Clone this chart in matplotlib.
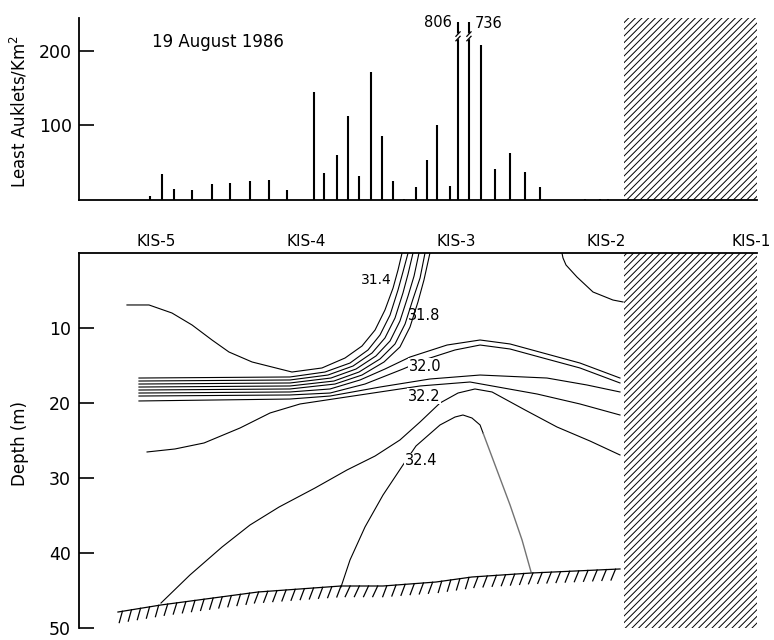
import numpy as np
import matplotlib.pyplot as plt
import matplotlib.patheffects as pe
from matplotlib.patches import Rectangle

plt.rcParams['font.family'] = ['DejaVu Sans']
plt.rcParams['hatch.linewidth'] = 0.7

# stations along the transect (x in station spacings)
stations = ['KIS-5', 'KIS-4', 'KIS-3', 'KIS-2', 'KIS-1']
station_x = [1, 2, 3, 4, 5]
land_start = 4.117

# least auklet densities along the transect
bird_x = [0.957, 1.037, 1.117, 1.237, 1.370, 1.490, 1.623, 1.750, 1.870,
          2.050, 2.117, 2.203, 2.277, 2.350, 2.430, 2.503, 2.577, 2.650,
          2.730, 2.803, 2.870, 2.957, 3.010, 3.083, 3.163, 3.257, 3.357,
          3.457, 3.557, 3.857, 3.957, 4.010]
bird_density = [5, 35, 15, 13, 22, 23, 25, 27, 13,
                144, 36, 60, 113, 32, 171, 86, 25, 2,
                18, 53, 101, 19, 806, 736, 208, 42, 63,
                37, 17, 1.5, 1.5, 1.5]

# salinity isolines: (distance, depth m)
s314_x = [0.803, 0.950, 1.103, 1.237, 1.370, 1.483, 1.637, 1.903, 2.103,
          2.257, 2.370, 2.457, 2.523, 2.577, 2.610, 2.637]
s314_z = [6.93, 6.93, 8.0, 9.6, 11.6, 13.2, 14.53, 15.87, 15.33,
          14.0, 12.4, 10.27, 7.6, 4.67, 2.27, 0]

b1_x = [0.883, 1.890, 2.123, 2.290, 2.410, 2.490, 2.557, 2.610, 2.643, 2.677]
b1_z = [16.67, 16.53, 15.87, 14.67, 12.93, 10.93, 8.27, 4.93, 2.53, 0]
b2_x = [0.883, 1.890, 2.143, 2.310, 2.437, 2.523, 2.590, 2.643, 2.677, 2.710]
b2_z = [17.07, 16.93, 16.27, 15.07, 13.33, 11.33, 8.67, 5.33, 2.8, 0]
b3_x = [0.883, 1.890, 2.163, 2.330, 2.463, 2.557, 2.623, 2.677, 2.717, 2.750]
b3_z = [17.47, 17.33, 16.67, 15.47, 13.73, 11.73, 9.07, 5.73, 3.07, 0]
b4_x = [0.883, 1.890, 2.183, 2.350, 2.490, 2.590, 2.657, 2.710, 2.757, 2.790]
b4_z = [17.87, 17.73, 17.07, 15.87, 14.13, 12.13, 9.47, 6.13, 3.33, 0]
b5_x = [0.883, 1.890, 2.190, 2.370, 2.517, 2.623, 2.690, 2.743, 2.783, 2.823]
b5_z = [18.27, 18.13, 17.47, 16.27, 14.53, 12.53, 9.87, 6.53, 3.6, 0]

s319_x = [0.883, 1.890, 2.157, 2.357, 2.523, 2.690, 2.937, 3.157, 3.357,
          3.577, 3.823, 4.090]
s319_z = [18.67, 18.53, 18.13, 16.93, 15.47, 13.87, 12.27, 11.6, 12.13,
          13.33, 14.67, 16.67]
s320_x = [0.883, 1.890, 2.157, 2.390, 2.643, 2.803, 2.990, 3.157, 3.357,
          3.577, 3.823, 4.090]
s320_z = [19.07, 18.93, 18.67, 17.47, 15.47, 14.13, 12.93, 12.27, 12.8,
          14.0, 15.33, 17.33]
s321_x = [0.883, 1.890, 2.157, 2.490, 2.823, 3.157, 3.603, 3.870, 4.090]
s321_z = [19.73, 19.47, 19.07, 17.87, 16.8, 16.27, 16.67, 17.6, 18.53]
s322_x = [0.937, 1.123, 1.317, 1.557, 1.757, 1.957, 2.223, 2.490, 2.757,
          3.090, 3.537, 3.823, 4.090]
s322_z = [26.53, 26.13, 25.33, 23.33, 21.33, 20.13, 19.33, 18.53, 17.73,
          17.2, 18.8, 20.13, 21.6]
s323_x = [1.030, 1.223, 1.437, 1.623, 1.817, 2.057, 2.270, 2.457, 2.623,
          2.757, 2.890, 3.010, 3.123, 3.237, 3.457, 3.670, 3.890, 4.090]
s323_z = [46.67, 42.93, 39.2, 36.27, 33.87, 31.33, 28.93, 27.07, 24.93,
          22.53, 20.0, 18.67, 18.13, 18.53, 20.93, 23.2, 25.07, 26.93]
s324_x = [2.230, 2.290, 2.390, 2.510, 2.643, 2.730, 2.890, 2.990, 3.043,
          3.103, 3.157, 3.177]
s324_z = [44.53, 40.93, 36.53, 32.27, 28.27, 25.73, 22.93, 21.87, 21.6,
          22.0, 22.93, 24.0]
s324b_x = [3.177, 3.257, 3.357, 3.437, 3.497]
s324b_z = [24.0, 28.27, 33.6, 38.27, 42.53]
arc_x = [3.703, 3.710, 3.730, 3.803, 3.910, 4.043, 4.110]
arc_z = [0, 0.67, 1.6, 3.2, 5.2, 6.27, 6.53]

# sea floor
floor_x = [0.743, 1.030, 1.677, 2.230, 2.510, 2.863, 3.103, 3.497, 4.090]
floor_z = [47.87, 46.93, 45.2, 44.4, 44.4, 43.87, 43.2, 42.67, 42.13]

W, H = 774, 640


def px_box(l, t, r, b):
    return [l / W, 1 - b / H, (r - l) / W, (b - t) / H]


fig = plt.figure(figsize=(W / 100, H / 100), dpi=100)
xlim = (0.4833, 5.0033)

# ---- top panel: bird densities
ax_top = fig.add_axes(px_box(79, 18, 757, 200))
ax_top.set_xlim(*xlim)
ax_top.set_ylim(0, 243.5)
cap = 238
dens = np.array(bird_density, dtype=float)
ax_top.vlines(bird_x, 0, np.minimum(dens, cap), color='black', lw=1.5)
big = [i for i, v in enumerate(dens) if v > cap]
for k, i in enumerate(big):
    x = bird_x[i]
    ax_top.plot([x - 0.012, x + 0.012], [216, 222], color='white', lw=3, solid_capstyle='butt')
    ax_top.plot([x - 0.014, x + 0.014], [213, 219], color='black', lw=0.9)
    ax_top.plot([x - 0.014, x + 0.014], [219, 225], color='black', lw=0.9)
    if k == 0:
        ax_top.text(x - 0.04, 237, '%d' % dens[i], ha='right', va='center', fontsize=10.5)
    else:
        ax_top.text(x + 0.04, 236, '%d' % dens[i], ha='left', va='center', fontsize=10.5)
ax_top.add_patch(Rectangle((land_start, 0), xlim[1] - land_start, 300,
                           facecolor='none', edgecolor='black', hatch='/////', lw=0))
ax_top.text(1.41, 211, '19 August 1986', ha='center', va='center', fontsize=12)
for s in ['top', 'right']:
    ax_top.spines[s].set_visible(False)
ax_top.spines['left'].set_linewidth(1.3)
ax_top.spines['bottom'].set_linewidth(1.3)
ax_top.set_xticks([])
ax_top.set_yticks([100, 200])
ax_top.tick_params(axis='y', direction='in', length=11, width=1.2, labelsize=12.5, pad=5)

# ---- bottom panel: salinity section
ax = fig.add_axes(px_box(79, 253, 757, 628))
ax.set_xlim(*xlim)
ax.set_ylim(50, 0)
lw = 0.8
ax.plot(s314_x, s314_z, color='black', lw=lw)
for bx, bz in [(b1_x, b1_z), (b2_x, b2_z), (b3_x, b3_z), (b4_x, b4_z), (b5_x, b5_z)]:
    ax.plot(bx, bz, color='black', lw=lw)
for sx, sz in [(s319_x, s319_z), (s320_x, s320_z), (s321_x, s321_z),
               (s322_x, s322_z), (s323_x, s323_z), (s324_x, s324_z), (arc_x, arc_z)]:
    ax.plot(sx, sz, color='black', lw=lw)
ax.plot(s324b_x, s324b_z, color='0.45', lw=1.0)

ax.plot(floor_x, floor_z, color='black', lw=0.9,
        path_effects=[pe.withTickedStroke(angle=-115, spacing=6.5, length=1.3)])

ax.add_patch(Rectangle((land_start, 0), xlim[1] - land_start, 50,
                       facecolor='none', edgecolor='black', hatch='/////', lw=0))

lab = dict(fontsize=10.5, ha='center', va='center')
box = dict(facecolor='white', edgecolor='none', pad=0.5)
ax.text(2.570, 3.6, '31.4', fontsize=10, ha='right', va='center')
ax.text(2.783, 8.4, '31.8', **lab)
ax.text(2.790, 15.1, '32.0', bbox=box, **lab)
ax.text(2.783, 19.1, '32.2', bbox=box, **lab)
ax.text(2.763, 27.7, '32.4', bbox=box, **lab)

for s in ['bottom', 'right']:
    ax.spines[s].set_visible(False)
ax.spines['left'].set_linewidth(1.3)
ax.spines['top'].set_linewidth(1.3)
ax.set_xticks([])
# station names above the section, last one nudged so it stays on the page
for name, sx in zip(stations, station_x):
    dx = -4 if sx == station_x[-1] else 0
    ax.annotate(name, (sx, 1), xycoords=('data', 'axes fraction'),
                xytext=(dx, 3), textcoords='offset points',
                ha='center', va='bottom', fontsize=11)
ax.set_yticks([10, 20, 30, 40, 50])
ax.tick_params(axis='y', direction='in', length=11, width=1.2, labelsize=12.5, pad=6)

fig.text(19 / W, 1 - 112 / H, 'Least Auklets/Km$^2$', rotation=90,
         ha='center', va='center', fontsize=12)
fig.text(20 / W, 1 - 443 / H, 'Depth (m)', rotation=90,
         ha='center', va='center', fontsize=12)

fig.savefig('out.png', dpi=100)
